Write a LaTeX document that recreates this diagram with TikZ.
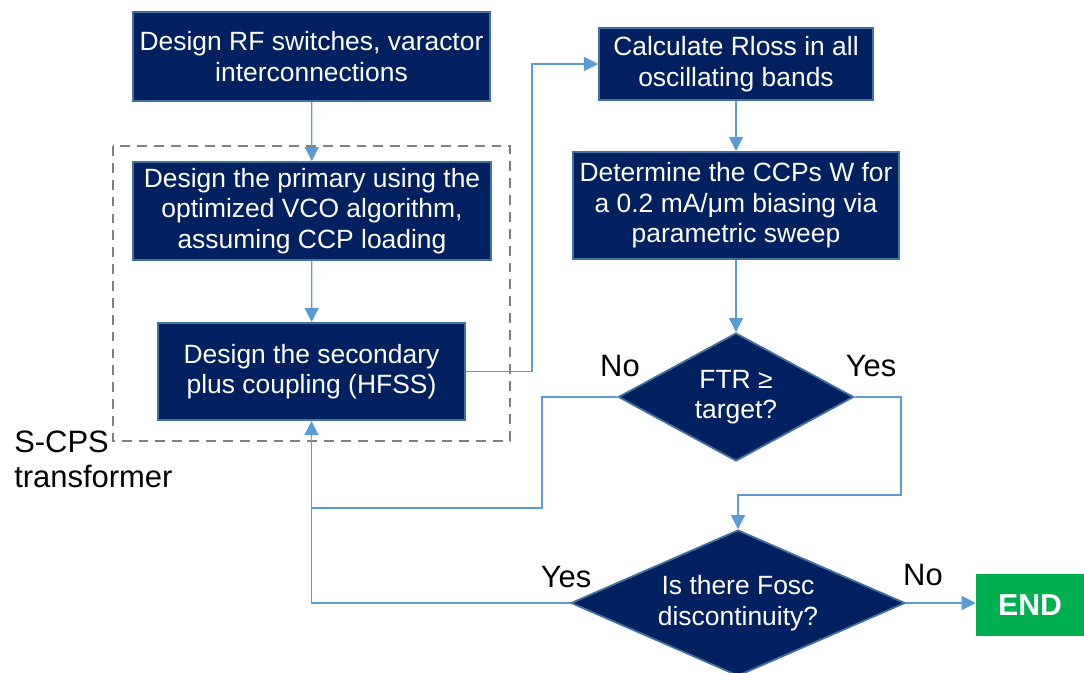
\documentclass[tikz,border=0pt]{standalone}
\usepackage{fontspec}
\setmainfont{Liberation Sans}
\usetikzlibrary{positioning, arrows.meta, calc, shapes.geometric}
\definecolor{boxnavy}{RGB}{0,32,96}
\definecolor{boxedge}{RGB}{65,113,156}
\definecolor{linkblue}{RGB}{91,155,213}
\definecolor{endgreen}{RGB}{0,176,80}
\begin{document}
\begin{tikzpicture}[x=0.025cm, y=-0.025cm,
      stepbox/.style={draw=boxedge, line width=1.3pt, fill=boxnavy, text=white, align=center,
        font=\fontsize{18.8}{21.7}\selectfont, inner sep=0pt},
      decide/.style={stepbox, diamond, aspect=2},
      tag/.style={font=\fontsize{22}{25}\selectfont, inner sep=0pt},
      link/.style={draw=linkblue, line width=0.9pt},
      arr/.style={link, -{Triangle[length=10pt, width=10pt]}}]
    \useasboundingbox (0,0) rectangle (1084,672);
    \node[stepbox, minimum width=8.93cm, minimum height=2.23cm] (rf) at (311.5,56.5) {Design RF switches, varactor\\interconnections};
    \node[stepbox, minimum width=8.95cm, minimum height=2.45cm] (prim) at (312,211) {Design the primary using the\\optimized VCO algorithm,\\assuming CCP loading};
    \node[stepbox, minimum width=7.68cm, minimum height=2.43cm] (sec) at (311.5,371.5) {Design the secondary\\plus coupling (HFSS)};
    \node[stepbox, minimum width=6.85cm, minimum height=1.8cm] (rloss) at (736,64) {Calculate Rloss in all\\oscillating bands};
    \node[stepbox, minimum width=8.13cm, minimum height=2.68cm] (ccp) at (736,205.5) {Determine the CCPs W for\\a 0.2 mA/μm biasing via\\parametric sweep};
    \node[decide, minimum width=5.88cm, minimum height=3.2cm] (ftr) at (736,397) {FTR ≥\\target?};
    \node[decide, minimum width=8.35cm, minimum height=3.65cm] (fosc) at (738,603) {Is there Fosc\\discontinuity?};
    \node[fill=endgreen, text=white, font=\fontsize{21.5}{25}\selectfont\bfseries, minimum width=2.7cm, minimum height=1.55cm, inner sep=0pt] (end) at (1030,605) {END};
    \draw[gray, line width=1.4pt, dash pattern=on 7pt off 5pt] (113,146) rectangle (510,441);
    \node[tag, anchor=west, align=left] (scps) at (14,459) {S-CPS\\transformer};
    \node[tag] (no1) at (620,366) {No};
    \node[tag] (yes1) at (871,366) {Yes};
    \node[tag] (yes2) at (566,577) {Yes};
    \node[tag] (no2) at (923,575) {No};
    \coordinate (j) at (311.5,508);
    \coordinate (nobend) at (542,508);
    \coordinate (yesbend) at (901,495);
    \draw[arr] (rf) -- (prim);
    \draw[arr] (prim) -- (sec);
    \draw[arr] (sec.east) -- ++(66,0) |- (rloss.west);
    \draw[arr] (rloss) -- (ccp);
    \draw[arr] (ccp) -- (ftr);
    \draw[link] (ftr.west) -| (nobend) -- (j);
    \draw[arr] (ftr.east) -| (yesbend) -| (fosc.north);
    \draw[arr] (fosc.west) -| (sec.south);
    \draw[arr] (fosc.east) -- (end.west |- fosc.east);
  \end{tikzpicture}
\end{document}
